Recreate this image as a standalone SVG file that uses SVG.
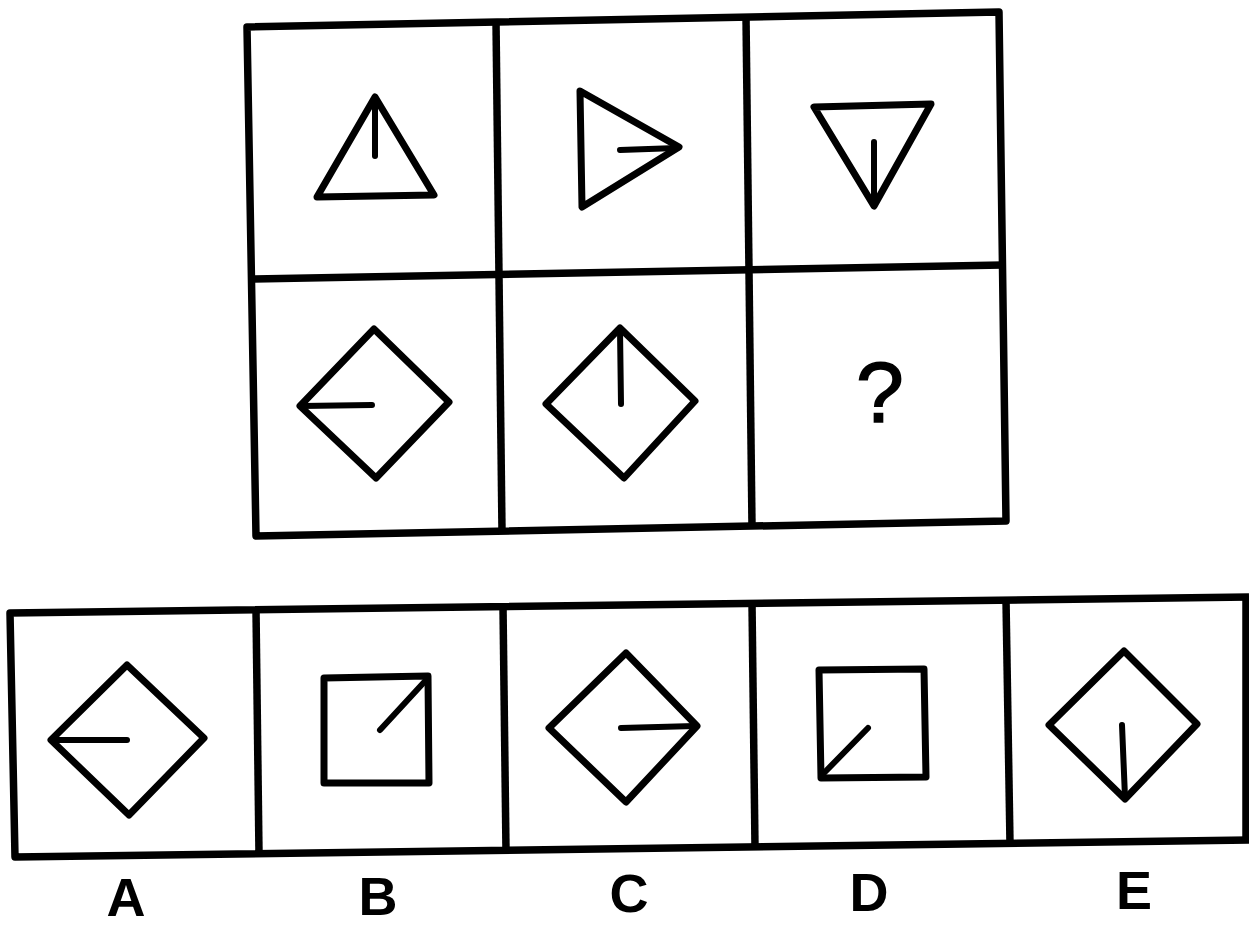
<svg xmlns="http://www.w3.org/2000/svg" width="1249" height="928" viewBox="0 0 1249 928">
<style>
.frame{fill:none;stroke:#000;stroke-width:7.5;stroke-linejoin:round;stroke-linecap:butt}
.shape{fill:none;stroke:#000;stroke-width:7;stroke-linejoin:round;stroke-linecap:round}
.tick{fill:none;stroke:#000;stroke-width:6;stroke-linecap:round}
.lbl{font-family:"Liberation Sans",Arial,sans-serif;font-weight:bold;font-size:54px;fill:#000;text-anchor:middle}
.q{font-family:"Liberation Sans",Arial,sans-serif;font-size:86px;fill:#000;stroke:#000;stroke-width:1.5;text-anchor:middle}
</style>
<rect width="1249" height="928" fill="#fff"/>
<g id="grid-lines">
<polygon class="frame" points="247,27 999,12 1006,521 256,536"/>
<line class="frame" x1="251.5" y1="279" x2="1002.5" y2="265"/>
<line class="frame" x1="496" y1="22" x2="502" y2="531"/>
<line class="frame" x1="746" y1="17" x2="752" y2="526"/>
<polyline class="frame" points="1249,597 10,613 15,857 1249,840"/>
<line class="frame" x1="1246" y1="597" x2="1246" y2="840"/>
<line class="frame" x1="256" y1="609.8" x2="259" y2="853.6"/>
<line class="frame" x1="503" y1="606.6" x2="506" y2="850.2"/>
<line class="frame" x1="752" y1="603.4" x2="755" y2="846.8"/>
<line class="frame" x1="1006" y1="600.1" x2="1010" y2="843.3"/>
</g>
<g id="cell-1-1">
<polygon class="shape" points="375,97 434,195 317,197"/>
<line class="tick" x1="375" y1="99" x2="375" y2="156"/>
</g>
<g id="cell-1-2">
<polygon class="shape" points="580,91 679,147 582,207"/>
<line class="tick" x1="620" y1="150" x2="677" y2="148"/>
</g>
<g id="cell-1-3">
<polygon class="shape" points="814,107 931,104 874,206"/>
<line class="tick" x1="874" y1="142" x2="874" y2="204"/>
</g>
<g id="cell-2-1">
<polygon class="shape" points="374,329 449,402 376,478 300,406"/>
<line class="tick" x1="302" y1="406" x2="372" y2="405"/>
</g>
<g id="cell-2-2">
<polygon class="shape" points="620,328 695,401 624,478 546,404"/>
<line class="tick" x1="620" y1="330" x2="621" y2="404"/>
</g>
<g id="cell-2-3">
<text class="q" x="880" y="422">?</text>
</g>
<g id="option-A">
<polygon class="shape" points="127,665 204,738 129,815 51,740"/>
<line class="tick" x1="53" y1="740" x2="127" y2="740"/>
<text class="lbl" x="126" y="916">A</text>
</g>
<g id="option-B">
<polygon class="shape" points="324,678 428,676 429,783 324,783"/>
<line class="tick" x1="427" y1="679" x2="380" y2="730"/>
<text class="lbl" x="378" y="915">B</text>
</g>
<g id="option-C">
<polygon class="shape" points="626,653 697,726 626,802 549,728"/>
<line class="tick" x1="621" y1="728" x2="695" y2="726"/>
<text class="lbl" x="629" y="912">C</text>
</g>
<g id="option-D">
<polygon class="shape" points="819,670 924,669 926,777 821,778"/>
<line class="tick" x1="824" y1="773" x2="868" y2="728"/>
<text class="lbl" x="869" y="911">D</text>
</g>
<g id="option-E">
<polygon class="shape" points="1124,651 1197,724 1125,799 1049,725"/>
<line class="tick" x1="1122" y1="725" x2="1125" y2="797"/>
<text class="lbl" x="1134" y="909">E</text>
</g>
</svg>
